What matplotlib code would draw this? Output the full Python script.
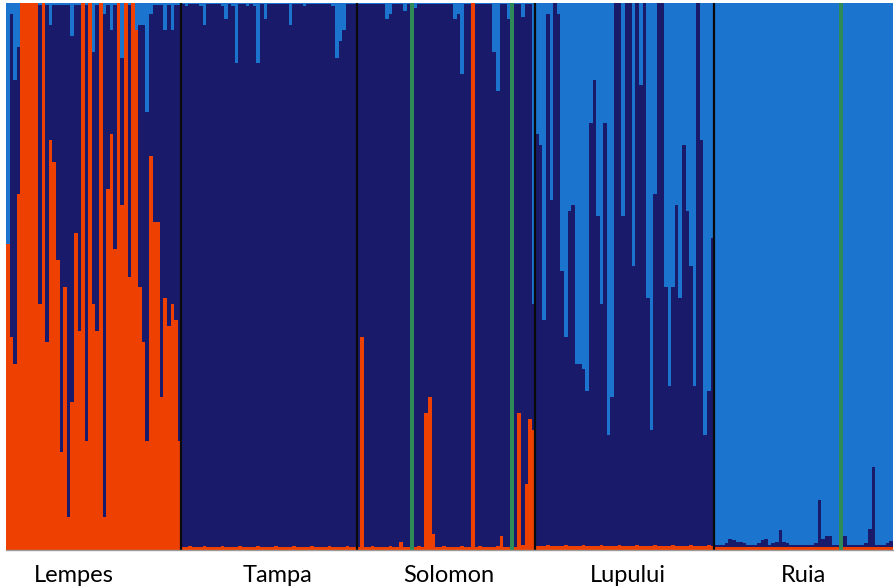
import numpy as np
import matplotlib.pyplot as plt
from matplotlib.transforms import blended_transform_factory

populations = ["Lempes", "Tampa", "Solomon", "Lupului", "Ruia"]

# membership fractions per individual; navy (cluster 2) is whatever is left over
lempes_orange = [0.56, 0.39, 0.34, 0.65, 1.0, 1.0, 1.0, 1.0, 1.0, 0.45, 1.0, 0.38, 0.75, 0.71, 0.53, 0.18,
                 0.48, 0.06, 0.27, 0.58, 0.40, 1.0, 0.20, 1.0, 0.45, 0.40, 1.0, 0.06, 0.66, 0.76, 0.55, 1.0,
                 0.63, 1.0, 0.50, 1.0, 0.95, 0.48, 0.38, 0.20, 0.72, 0.60, 0.60, 0.28, 0.46, 0.41, 0.45, 0.42,
                 0.20]
lempes_lightblue = [0.44, 0.02, 0.14, 0.08, 0.0, 0.0, 0.0, 0.0, 0.0, 0.004, 0.0, 0.004, 0.04, 0.003, 0.004,
                    0.003, 0.004, 0.003, 0.06, 0.004, 0.003, 0.0, 0.004, 0.0, 0.09, 0.003, 0.0, 0.02, 0.004,
                    0.05, 0.003, 0.0, 0.10, 0.0, 0.004, 0.0, 0.05, 0.04, 0.04, 0.20, 0.02, 0.004, 0.003,
                    0.004, 0.05, 0.003, 0.05, 0.004, 0.003]

tampa_orange = [0.006, 0.005, 0.007, 0.006, 0.005, 0.006, 0.007, 0.006, 0.005, 0.006, 0.006, 0.007, 0.005,
                0.006, 0.006, 0.005, 0.007, 0.006, 0.006, 0.005, 0.006, 0.007, 0.006, 0.005, 0.006, 0.006,
                0.007, 0.006, 0.005, 0.006, 0.006, 0.007, 0.006, 0.005, 0.006, 0.006, 0.007, 0.006, 0.005,
                0.006, 0.006, 0.007, 0.006, 0.005, 0.006, 0.006, 0.007, 0.006, 0.005]
tampa_lightblue = [0.002, 0.006, 0.002, 0.001, 0.002, 0.006, 0.04, 0.002, 0.001, 0.002, 0.002, 0.006, 0.03,
                   0.002, 0.006, 0.11, 0.002, 0.001, 0.006, 0.002, 0.006, 0.11, 0.002, 0.03, 0.002, 0.001,
                   0.002, 0.002, 0.001, 0.002, 0.04, 0.002, 0.001, 0.002, 0.006, 0.002, 0.001, 0.002, 0.002,
                   0.001, 0.002, 0.002, 0.006, 0.10, 0.07, 0.05, 0.002, 0.001, 0.002]

solomon_orange = [0.006, 0.39, 0.006, 0.006, 0.007, 0.006, 0.005, 0.006, 0.006, 0.007, 0.006, 0.006, 0.015,
                  0.006, 0.006, 0.0, 0.006, 0.007, 0.006, 0.25, 0.28, 0.03, 0.006, 0.006, 0.007, 0.006,
                  0.005, 0.006, 0.006, 0.007, 0.006, 0.006, 1.0, 0.006, 0.007, 0.006, 0.005, 0.006, 0.006,
                  0.007, 0.025, 0.006, 0.006, 0.0, 0.006, 0.25, 0.01, 0.12, 0.24, 0.22]
solomon_lightblue = [0.002, 0.001, 0.002, 0.002, 0.001, 0.002, 0.002, 0.001, 0.03, 0.02, 0.002, 0.001, 0.002,
                     0.015, 0.002, 0.0, 0.01, 0.002, 0.001, 0.002, 0.002, 0.001, 0.002, 0.002, 0.001, 0.002,
                     0.002, 0.03, 0.02, 0.13, 0.002, 0.001, 0.0, 0.002, 0.002, 0.001, 0.002, 0.002, 0.09,
                     0.16, 0.002, 0.001, 0.03, 0.0, 0.002, 0.002, 0.025, 0.002, 0.001, 0.55]
solomon_green = [0.0] * 15 + [1.0] + [0.0] * 27 + [1.0] + [0.0] * 6

lupului_orange = [0.008, 0.007, 0.008, 0.009, 0.008, 0.007, 0.008, 0.008, 0.009, 0.008, 0.007, 0.008, 0.008,
                  0.009, 0.008, 0.007, 0.008, 0.008, 0.009, 0.008, 0.007, 0.008, 0.008, 0.009, 0.008, 0.007,
                  0.008, 0.008, 0.009, 0.008, 0.007, 0.008, 0.008, 0.009, 0.008, 0.007, 0.008, 0.008, 0.009,
                  0.008, 0.007, 0.008, 0.008, 0.009, 0.008, 0.007, 0.008, 0.008, 0.009, 0.008]
lupului_lightblue = [0.24, 0.26, 0.58, 0.02, 0.36, 0.0, 0.02, 0.49, 0.61, 0.38, 0.37, 0.66, 0.66, 0.67, 0.71,
                     0.22, 0.14, 0.39, 0.55, 0.22, 0.79, 0.72, 0.0, 0.0, 0.39, 0.0, 0.0, 0.48, 0.0, 0.15,
                     0.0, 0.54, 0.78, 0.35, 0.0, 0.0, 0.52, 0.70, 0.52, 0.37, 0.54, 0.26, 0.38, 0.48, 0.70,
                     0.0, 0.25, 0.79, 0.71, 0.43]

ruia_orange = [0.006, 0.005, 0.006, 0.006, 0.006, 0.005, 0.006, 0.006, 0.006, 0.005, 0.006, 0.006, 0.006,
               0.005, 0.006, 0.006, 0.006, 0.005, 0.006, 0.006, 0.006, 0.005, 0.006, 0.006, 0.006, 0.005,
               0.006, 0.006, 0.006, 0.005, 0.006, 0.006, 0.006, 0.005, 0.006, 0.0, 0.006, 0.005, 0.006,
               0.006, 0.006, 0.005, 0.006, 0.006, 0.006, 0.005, 0.006, 0.006, 0.006, 0.006]
ruia_lightblue = [0.99, 0.99, 0.99, 0.988, 0.979, 0.982, 0.986, 0.986, 0.988, 0.99, 0.99, 0.99, 0.988, 0.982,
                  0.979, 0.99, 0.988, 0.986, 0.964, 0.986, 0.988, 0.99, 0.99, 0.99, 0.99, 0.99, 0.99, 0.99,
                  0.988, 0.909, 0.979, 0.974, 0.974, 0.99, 0.99, 0.0, 0.974, 0.99, 0.99, 0.99, 0.99, 0.99,
                  0.988, 0.961, 0.849, 0.99, 0.99, 0.99, 0.988, 0.984]
ruia_green = [0.0] * 35 + [1.0] + [0.0] * 14

# label centres, in individual index units
label_pos = [19.0, 75.8, 123.8, 173.9, 223.1]

orange = np.array(lempes_orange + tampa_orange + solomon_orange + lupului_orange + ruia_orange)
lightblue = np.array(lempes_lightblue + tampa_lightblue + solomon_lightblue + lupului_lightblue + ruia_lightblue)
green = np.concatenate([np.zeros(len(lempes_orange)), np.zeros(len(tampa_orange)),
                        solomon_green, np.zeros(len(lupului_orange)), ruia_green])
navy = np.clip(1.0 - orange - lightblue - green, 0, 1)

sizes = [len(lempes_orange), len(tampa_orange), len(solomon_orange), len(lupului_orange), len(ruia_orange)]
x = np.arange(len(orange))

colors = {"orange": "#EE4000", "navy": "#1A1A6B", "green": "#2E8B57", "lightblue": "#1B74CD"}

fig = plt.figure(figsize=(8.95, 5.87), dpi=100)
ax = fig.add_axes([6 / 895, 37 / 587, 887 / 895, 547 / 587])

bottom = np.zeros(len(x))
for name, vals in [("orange", orange), ("navy", navy), ("green", green), ("lightblue", lightblue)]:
    ax.bar(x, vals, bottom=bottom, width=1.0, align="edge", color=colors[name], linewidth=0)
    bottom += vals

# population separators
for b in np.cumsum(sizes)[:-1]:
    ax.axvline(b, color="#0a0a0a", lw=1.6)

ax.set_xlim(0, len(x))
ax.set_ylim(0, 1)
ax.set_yticks([])
ax.set_xticks([])
for side in ["left", "right", "top"]:
    ax.spines[side].set_visible(False)
ax.spines["bottom"].set_color("#9a9a9a")
ax.spines["bottom"].set_linewidth(1.0)

trans = blended_transform_factory(ax.transData, ax.transAxes)
for pos, name in zip(label_pos, populations):
    ax.text(pos, -0.046, name, transform=trans, ha="center", va="center",
            fontsize=17, family="Lato", color="black")

fig.savefig("out.png", dpi=100)
